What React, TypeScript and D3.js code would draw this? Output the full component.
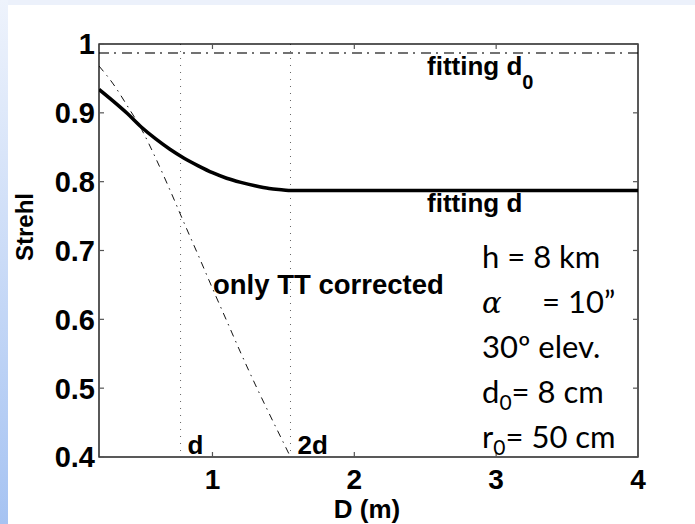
import React from "react";
import * as d3 from "d3";

// Telescope diameter (m) and Strehl ratio
const dFit = 0.775; // fitting scale d
const fitD0Strehl = 0.987;

const fitDiam = [0.2, 0.3, 0.4, 0.5, 0.6, 0.7, 0.8, 0.9, 1.0, 1.1, 1.2, 1.3, 1.4, 1.5, 1.55, 4.0];
const fitStrehl = [0.934, 0.917, 0.899, 0.879, 0.862, 0.847, 0.834, 0.823, 0.813, 0.805, 0.799, 0.794, 0.79, 0.788, 0.787, 0.787];

const ttDiam = [0.2, 0.3, 0.4, 0.5, 0.6, 0.7, 0.8, 0.9, 1.0, 1.1, 1.2, 1.3, 1.4, 1.5, 1.55];
const ttStrehl = [0.968, 0.942, 0.91, 0.876, 0.834, 0.788, 0.74, 0.693, 0.645, 0.598, 0.551, 0.506, 0.463, 0.421, 0.4];

const xTicks = [1, 2, 3, 4];
const yTicks = [0.4, 0.5, 0.6, 0.7, 0.8, 0.9, 1];

const W = 695;
const H = 524;
const plot = { left: 99, right: 638, top: 44, bottom: 457 };

export default function App() {
  const x = d3.scaleLinear().domain([0.2, 4]).range([plot.left, plot.right]);
  const y = d3.scaleLinear().domain([0.4, 1]).range([plot.bottom, plot.top]);

  const line = d3
    .line<[number, number]>()
    .x((p) => x(p[0]))
    .y((p) => y(p[1]))
    .curve(d3.curveMonotoneX);

  const fitPath = line(fitDiam.map((v, i) => [v, fitStrehl[i]]) as [number, number][]) || "";
  const ttPath = line(ttDiam.map((v, i) => [v, ttStrehl[i]]) as [number, number][]) || "";

  const mFont = "'Liberation Sans', Arial, Helvetica, sans-serif";
  const boxFont = "Lato, 'Open Sans', sans-serif";
  const tickLen = 5;

  const boxX = 482;
  const boxLines = [268, 313, 358, 403, 448];

  return (
    <div style={{ position: "fixed", left: 0, top: 0 }}>
      <svg width={W} height={H} style={{ display: "block" }}>
        <defs>
          <linearGradient id="sideBand" x1="0" y1="0" x2="0" y2="1">
            <stop offset="0" stopColor="#eef3fc" />
            <stop offset="1" stopColor="#a6c3f2" />
          </linearGradient>
          <clipPath id="plotClip">
            <rect x={plot.left} y={plot.top} width={plot.right - plot.left} height={plot.bottom - plot.top} />
          </clipPath>
        </defs>

        {/* slide background */}
        <rect x={0} y={0} width={W} height={H} fill="#ecf1fb" />
        <rect x={0} y={0} width={8} height={H} fill="url(#sideBand)" />
        <rect x={8} y={5} width={W - 8} height={H - 5} fill="#ffffff" />

        <g clipPath="url(#plotClip)">
          {/* d and 2d markers */}
          {[dFit, 2 * dFit].map((v) => (
            <line
              key={v}
              x1={x(v)}
              x2={x(v)}
              y1={plot.top}
              y2={plot.bottom}
              stroke="#666"
              strokeWidth={1}
              strokeDasharray="1 6"
            />
          ))}
          {/* fitting d0 */}
          <line
            x1={plot.left}
            x2={plot.right}
            y1={y(fitD0Strehl)}
            y2={y(fitD0Strehl)}
            stroke="#444"
            strokeWidth={1.4}
            strokeDasharray="10 5 2 6"
          />
          {/* only TT corrected */}
          <path d={ttPath} fill="none" stroke="#111" strokeWidth={1} strokeDasharray="7 5 1.5 5" />
          {/* fitting d */}
          <path d={fitPath} fill="none" stroke="#000" strokeWidth={3.5} />
        </g>

        {/* axes box */}
        <rect
          x={plot.left}
          y={plot.top}
          width={plot.right - plot.left}
          height={plot.bottom - plot.top}
          fill="none"
          stroke="#000"
          strokeWidth={1.3}
        />
        {xTicks.map((t) => (
          <g key={"x" + t}>
            <line x1={x(t)} x2={x(t)} y1={plot.bottom} y2={plot.bottom - tickLen} stroke="#555" strokeWidth={1.2} />
            <line x1={x(t)} x2={x(t)} y1={plot.top} y2={plot.top + tickLen} stroke="#555" strokeWidth={1.2} />
            <text x={x(t)} y={489} textAnchor="middle" fontFamily={mFont} fontWeight="bold" fontSize={28} fill="#000">
              {t}
            </text>
          </g>
        ))}
        {yTicks.map((t) => (
          <g key={"y" + t}>
            <line x1={plot.left} x2={plot.left + tickLen} y1={y(t)} y2={y(t)} stroke="#555" strokeWidth={1.2} />
            <line x1={plot.right} x2={plot.right - tickLen} y1={y(t)} y2={y(t)} stroke="#555" strokeWidth={1.2} />
            <text
              x={95}
              y={y(t)}
              dy="0.36em"
              textAnchor="end"
              fontFamily={mFont}
              fontWeight="bold"
              fontSize={29}
              fill="#000"
            >
              {String(t)}
            </text>
          </g>
        ))}

        {/* axis titles */}
        <text x={367} y={518} textAnchor="middle" fontFamily={mFont} fontWeight="bold" fontSize={26} fill="#000">
          D (m)
        </text>
        <text
          transform="translate(33,227) rotate(-90)"
          textAnchor="middle"
          fontFamily={mFont}
          fontWeight="bold"
          fontSize={24}
          fill="#000"
        >
          Strehl
        </text>

        {/* curve labels */}
        <text x={427} y={75} fontFamily={mFont} fontWeight="bold" fontSize={26} fill="#000">
          fitting d
          <tspan fontSize={20} dy={14}>0</tspan>
        </text>
        <text x={427} y={212} fontFamily={mFont} fontWeight="bold" fontSize={26} fill="#000">
          fitting d
        </text>
        <text x={213} y={294} fontFamily={mFont} fontWeight="bold" fontSize={27.5} fill="#000">
          only TT corrected
        </text>
        <text x={x(dFit) + 7} y={454} fontFamily={mFont} fontWeight="bold" fontSize={26} fill="#000">
          d
        </text>
        <text x={x(2 * dFit) + 7} y={454} fontFamily={mFont} fontWeight="bold" fontSize={26} fill="#000">
          2d
        </text>

        {/* observing parameters */}
        <g fontFamily={boxFont} fontSize={31} fill="#000">
          <text x={boxX} y={boxLines[0]}>h = 8 km</text>
          <text x={boxX} y={boxLines[1]}>
            <tspan fontFamily="'DejaVu Serif', 'Liberation Serif', serif" fontStyle="italic" fontSize={29}>α</tspan>
            <tspan x={boxX + 60}>= 10”</tspan>
          </text>
          <text x={boxX} y={boxLines[2]}>30º elev.</text>
          <text x={boxX} y={boxLines[3]}>
            d<tspan fontSize={21} dy={7}>0</tspan>
            <tspan dy={-7}>= 8 cm</tspan>
          </text>
          <text x={boxX} y={boxLines[4]}>
            r<tspan fontSize={21} dy={7}>0</tspan>
            <tspan dy={-7}>= 50 cm</tspan>
          </text>
        </g>
      </svg>
    </div>
  );
}
